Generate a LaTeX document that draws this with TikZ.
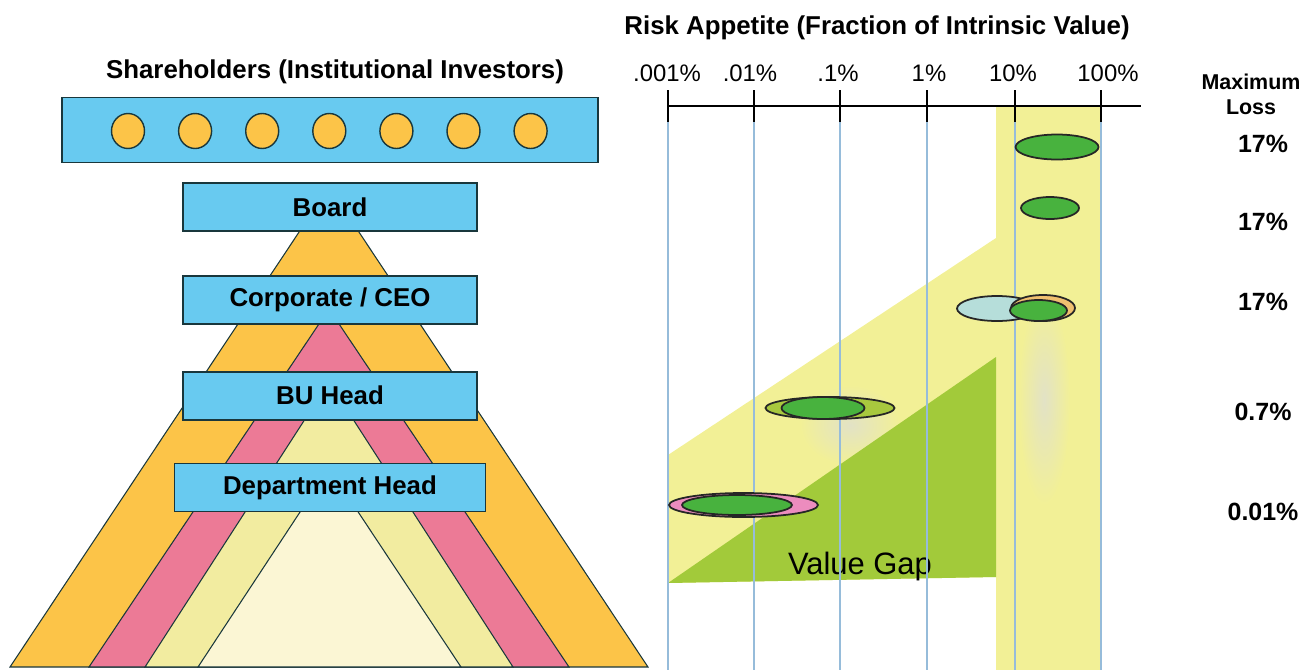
\documentclass[tikz,border=0pt]{standalone}
\usepackage{fontspec}
\setmainfont{Liberation Sans}
\usetikzlibrary{positioning, shapes.geometric}

\definecolor{unitblue}{RGB}{104,202,240}
\definecolor{edge}{RGB}{25,55,60}
\definecolor{pyrorange}{RGB}{252,196,72}
\definecolor{pyrpink}{RGB}{236,122,150}
\definecolor{pyryellow}{RGB}{242,236,160}
\definecolor{pyrcream}{RGB}{251,246,212}
\definecolor{bandyellow}{RGB}{242,240,150}
\definecolor{smudge}{RGB}{226,226,198}
\definecolor{gapgreen}{RGB}{162,202,58}
\definecolor{riskgreen}{RGB}{72,178,62}
\definecolor{gridblue}{RGB}{150,188,218}
\definecolor{riskolive}{RGB}{168,200,62}
\definecolor{riskpink}{RGB}{236,140,190}
\definecolor{riskpale}{RGB}{182,222,218}
\definecolor{riskring}{RGB}{240,192,112}

\begin{document}
\begin{tikzpicture}[x=0.02cm, y=-0.02cm,
    unit/.style={draw=edge, line width=1pt, fill=unitblue, inner sep=0pt,
        minimum width=5.88cm, minimum height=0.96cm,
        font=\fontsize{14.7}{17}\selectfont\bfseries},
    coin/.style={draw=edge, line width=0.8pt, fill=pyrorange, ellipse, inner sep=0pt,
        minimum width=0.66cm, minimum height=0.7cm},
    layer/.style={draw=edge, line width=0.6pt},
    head/.style={font=\fontsize{14.7}{17}\selectfont\bfseries},
    ticklbl/.style={font=\fontsize{13.6}{16}\selectfont},
    losslbl/.style={font=\fontsize{14.2}{17}\selectfont\bfseries},
    risk/.style={draw=black!85, line width=1pt}]
    \useasboundingbox (0,0) rectangle (1315,670);

    % pyramid
    \coordinate (apex) at (329,187);
    \filldraw[layer, fill=pyrorange] (apex) -- (648,667) -- (10,667) -- cycle;
    \filldraw[layer, fill=pyrpink] (329,309) -- (569,667) -- (89,667) -- cycle;
    \filldraw[layer, fill=pyryellow] (329,382) -- (513,667) -- (145,667) -- cycle;
    \filldraw[layer, fill=pyrcream] (329,468) -- (461,667) -- (198,667) -- cycle;

    % shareholders and the chain below them
    \node[head] (sharetitle) at (335,72) {Shareholders (Institutional Investors)};
    \node[unit, minimum width=10.72cm, minimum height=1.3cm] (share) at (330,130) {};
    \foreach \i in {0,...,6}
        \node[coin] (c\i) at (128+67.1*\i,131) {};
    \node[unit, below=0.38cm of share] (board) {Board};
    \node[unit, below=0.86cm of board] (ceo) {Corporate / CEO};
    \node[unit, below=0.92cm of ceo] (bu) {BU Head};
    \node[unit, below=0.84cm of bu, minimum width=6.22cm] (dept) {Department Head};

    % risk appetite chart
    \fill[bandyellow] (668,455) -- (996,238) -- (996,577) -- (668,583) -- cycle;
    \shade[inner color=smudge, outer color=bandyellow] (850,425) ellipse [x radius=50, y radius=40];
    \fill[bandyellow] (996,107) rectangle (1100,670);
    \shade[inner color=smudge, outer color=bandyellow] (1044,400) ellipse [x radius=26, y radius=105];
    \fill[gapgreen] (668,583) -- (996,357) -- (996,577) -- cycle;
    \node[font=\fontsize{17.6}{20}\selectfont, anchor=base] (gap) at (860,574) {Value Gap};

    \node[head] (risktitle) at (877,28) {Risk Appetite (Fraction of Intrinsic Value)};
    \coordinate (ax0) at (668,106);
    \coordinate (ax1) at (1141,106);
    \foreach \x in {668,754,840,927,1015,1101} {
        \draw[gridblue, line width=0.7pt] (\x,122) -- (\x,670);
        \draw[line width=1.2pt] (\x,90) -- (\x,122);
    }
    \draw[line width=1.2pt] (ax0) -- (ax1);
    \foreach \x/\t in {667/.001\%, 750/.01\%, 838/.1\%, 929/1\%, 1013/10\%, 1108/100\%}
        \node[ticklbl] (t\x) at (\x,73) {\t};

    % appetite at each level
    \filldraw[risk, fill=riskgreen] (1057,147) ellipse [x radius=41.5, y radius=12.5];
    \filldraw[risk, fill=riskgreen] (1050,208) ellipse [x radius=29, y radius=11];
    \filldraw[risk, fill=riskpale] (997,308.5) ellipse [x radius=40, y radius=12.5];
    \filldraw[risk, fill=riskring] (1043,308) ellipse [x radius=32, y radius=13];
    \filldraw[risk, fill=riskgreen] (1038.5,310.5) ellipse [x radius=28.5, y radius=10.5];
    \filldraw[risk, fill=riskolive] (830,408) ellipse [x radius=64.5, y radius=11];
    \filldraw[risk, fill=riskgreen] (823,408) ellipse [x radius=41.5, y radius=11];
    \filldraw[risk, fill=riskpink] (743.5,505) ellipse [x radius=74.5, y radius=12];
    \filldraw[risk, fill=riskgreen] (737,505) ellipse [x radius=55, y radius=10];

    % maximum loss column
    \node[font=\fontsize{12.2}{14.2}\selectfont\bfseries, align=center] (maxloss) at (1251,94) {Maximum\\Loss};
    \node[losslbl] (l1) at (1263,144) {17\%};
    \node[losslbl] (l2) at (1263,222) {17\%};
    \node[losslbl] (l3) at (1263,302) {17\%};
    \node[losslbl] (l4) at (1263,412) {0.7\%};
    \node[losslbl] (l5) at (1263,512) {0.01\%};
\end{tikzpicture}
\end{document}
